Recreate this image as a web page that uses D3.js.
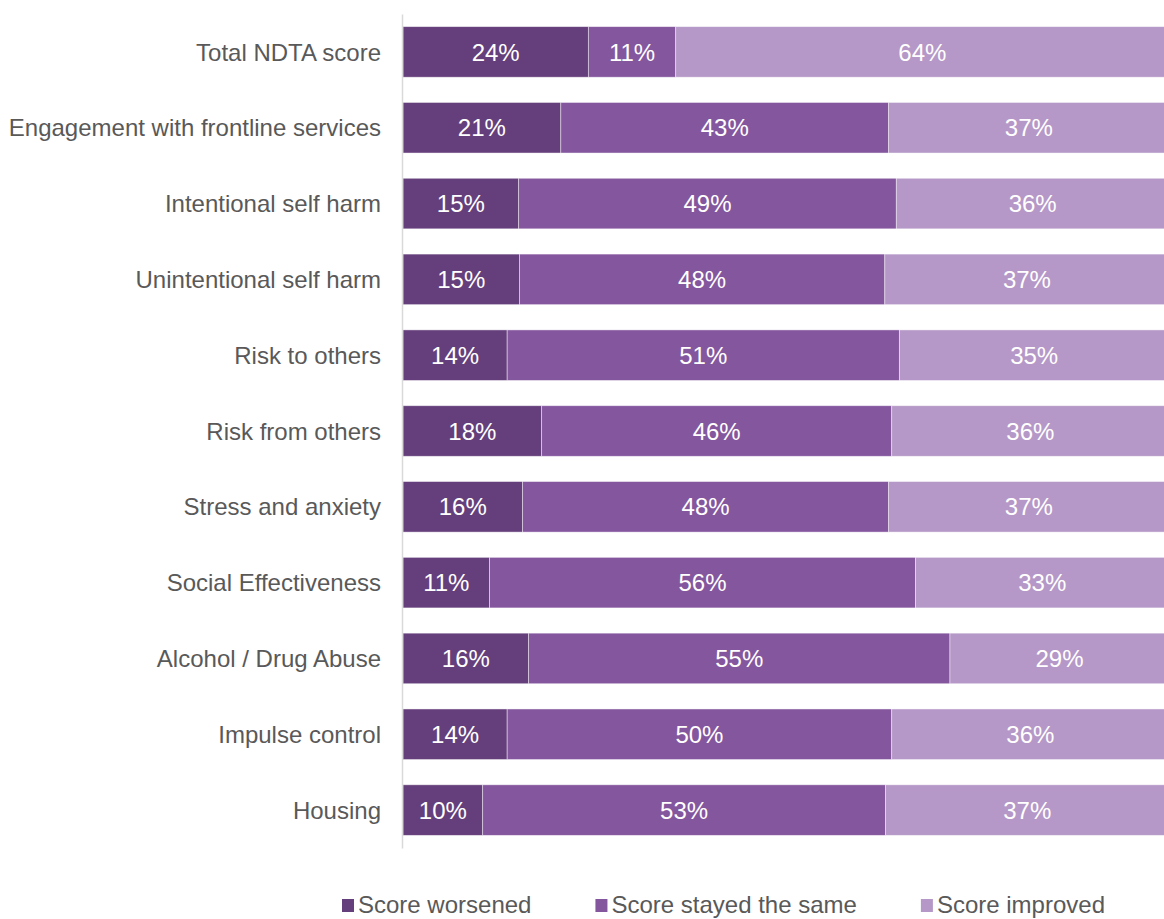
<!DOCTYPE html>
<html>
<head>
<meta charset="utf-8">
<script src="https://cdn.jsdelivr.net/npm/d3@7"></script>
<style>
  html, body { margin: 0; padding: 0; background: #fff; }
  svg { display: block; }
  text { font-family: "Liberation Sans", Arial, sans-serif; }
</style>
</head>
<body>
<svg id="chart" width="1164" height="919"></svg>
<script>
const categories = [
  "Total NDTA score",
  "Engagement with frontline services",
  "Intentional self harm",
  "Unintentional self harm",
  "Risk to others",
  "Risk from others",
  "Stress and anxiety",
  "Social Effectiveness",
  "Alcohol / Drug Abuse",
  "Impulse control",
  "Housing"
];
const seriesNames = ["Score worsened", "Score stayed the same", "Score improved"];
const worsened = [24.2, 20.6, 15.1, 15.2, 13.6, 18.1, 15.6, 11.3, 16.4, 13.6, 10.4];
const stayedSame = [11.4, 42.8, 49.3, 47.7, 51.2, 45.7, 47.8, 55.6, 55.0, 50.2, 52.6];
const improved = [64.4, 36.6, 35.6, 37.1, 35.2, 36.2, 36.6, 33.1, 28.6, 36.2, 37.0];
const colors = ["#653f7b", "#84569e", "#b598c7"];

const rows = categories.map((c, i) => ({
  cat: c, s0: worsened[i], s1: stayedSame[i], s2: improved[i]
}));

const svg = d3.select("#chart");
const FS = "24px";
const x = d3.scaleLinear().domain([0, 100]).range([403, 1169]);
const y = d3.scaleBand().domain(categories).range([14, 848])
  .paddingInner(0.333).paddingOuter(0.1667);

const stacked = d3.stack().keys(["s0", "s1", "s2"])(rows);

const layers = svg.selectAll("g.layer").data(stacked).join("g")
  .attr("class", "layer")
  .attr("fill", (d, i) => colors[i]);

layers.selectAll("rect").data(d => d).join("rect")
  .attr("x", d => x(d[0]))
  .attr("y", d => y(d.data.cat))
  .attr("width", d => x(d[1]) - x(d[0]))
  .attr("height", y.bandwidth())
  .attr("stroke", "#ffffff")
  .attr("stroke-opacity", 0.55)
  .attr("stroke-width", 0.8);

layers.selectAll("text").data(d => d).join("text")
  .attr("x", d => (x(d[0]) + x(d[1])) / 2)
  .attr("y", d => y(d.data.cat) + y.bandwidth() / 2)
  .attr("dy", "0.36em")
  .attr("text-anchor", "middle")
  .attr("fill", "#ffffff")
  .attr("font-size", FS)
  .text(d => Math.round(d[1] - d[0]) + "%");

// category axis
const yAxis = d3.axisLeft(y).tickSize(0).tickPadding(21);
const ga = svg.append("g").attr("transform", "translate(402,0)").call(yAxis);
ga.select(".domain").attr("stroke", "#d9d9d9").attr("stroke-width", 1.5);
ga.selectAll(".tick text")
  .attr("font-family", "Liberation Sans, Arial, sans-serif")
  .attr("font-size", FS)
  .attr("fill", "#595959")
  .attr("dy", "0.36em");

// legend
const legend = svg.append("g").attr("class", "legend");
let lx = 342;
seriesNames.forEach((name, i) => {
  const g = legend.append("g");
  g.append("rect").attr("x", lx).attr("y", 899).attr("width", 12).attr("height", 13)
    .attr("fill", colors[i]);
  const t = g.append("text").attr("x", lx + 16).attr("y", 913)
    .attr("font-size", FS).attr("fill", "#595959").text(name);
  lx += 16 + t.node().getComputedTextLength() + 64;
});
</script>
</body>
</html>
